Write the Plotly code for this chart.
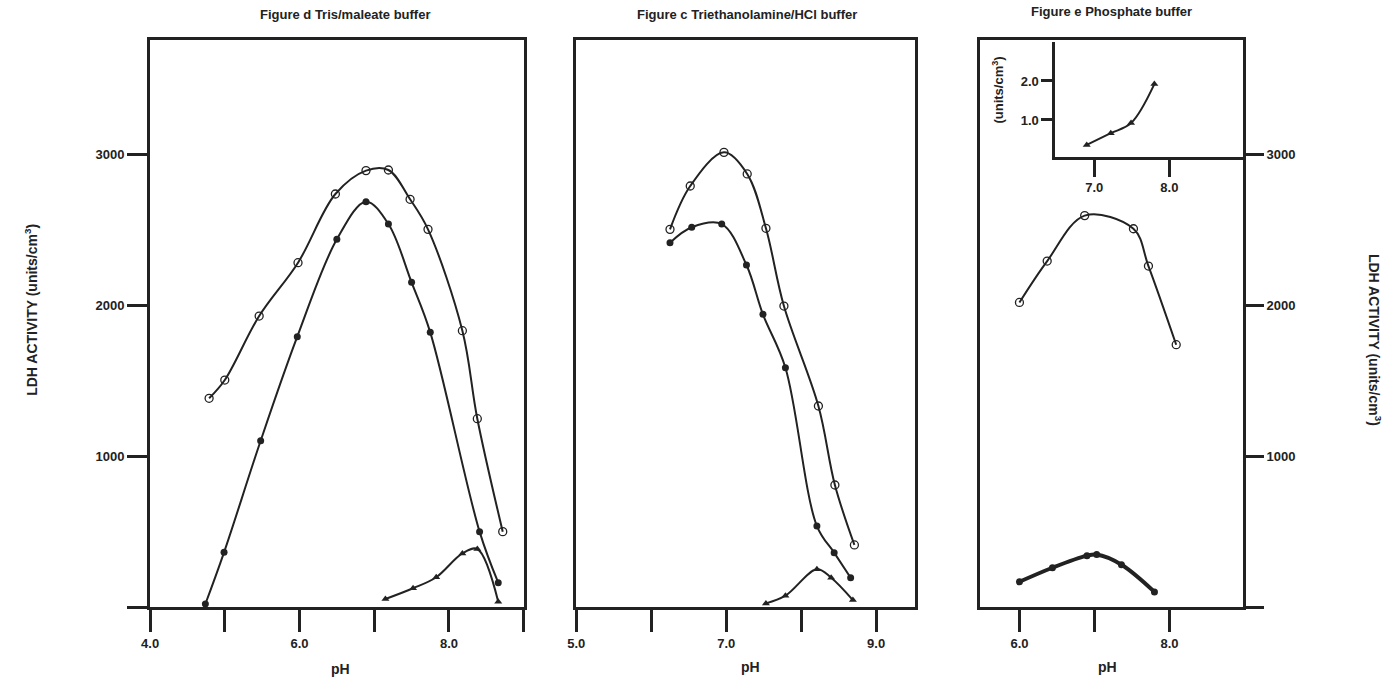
import plotly.graph_objects as go

# ---------------- data ----------------
# Figure d  Tris/maleate buffer
d_open_ph = [4.79, 5.00, 5.46, 5.98, 6.48, 6.89, 7.19, 7.48, 7.72, 8.18, 8.38, 8.72]
d_open_act = [1382, 1503, 1927, 2280, 2735, 2890, 2894, 2700, 2501, 1830, 1247, 499]
d_fill_ph = [4.74, 4.99, 5.48, 5.97, 6.50, 6.89, 7.19, 7.50, 7.75, 8.41, 8.66]
d_fill_act = [20, 362, 1101, 1790, 2435, 2684, 2536, 2150, 1819, 499, 161]
d_tri_ph = [7.15, 7.52, 7.83, 8.18, 8.38, 8.66]
d_tri_act = [53, 124, 197, 355, 384, 35]

# Figure c  Triethanolamine/HCl buffer
c_open_ph = [6.25, 6.52, 6.97, 7.28, 7.53, 7.77, 8.23, 8.45, 8.71]
c_open_act = [2501, 2788, 3011, 2868, 2508, 1993, 1331, 808, 411]
c_fill_ph = [6.25, 6.54, 6.94, 7.27, 7.49, 7.79, 8.21, 8.44, 8.66]
c_fill_act = [2413, 2515, 2536, 2265, 1938, 1585, 536, 360, 194]
c_tri_ph = [7.53, 7.79, 8.21, 8.40, 8.69]
c_tri_act = [24, 75, 250, 194, 46]

# Figure e  Phosphate buffer
e_open_ph = [6.00, 6.37, 6.87, 7.52, 7.72, 8.09]
e_open_act = [2017, 2291, 2592, 2505, 2258, 1737]
e_fill_ph = [6.00, 6.44, 6.90, 7.03, 7.36, 7.80]
e_fill_act = [167, 260, 340, 347, 280, 100]
# inset (units/cm3)
e_inset_ph = [6.90, 7.22, 7.49, 7.80]
e_inset_act = [0.36, 0.66, 0.92, 1.92]

# tick labels
d_xticks = [4, 6, 8]
d_xlabels = ["4.0", "6.0", "8.0"]
d_xminor = [5, 7, 9]
c_xticks = [5, 7, 9]
c_xlabels = ["5.0", "7.0", "9.0"]
c_xminor = [6, 8]
e_xticks = [6, 8]
e_xlabels = ["6.0", "8.0"]
e_xminor = [7, 9]
y_ticks = [1000, 2000, 3000]
y_labels = ["1000", "2000", "3000"]
y_minor = [0]
inset_xticks = [7, 8]
inset_xlabels = ["7.0", "8.0"]
inset_yticks = [1, 2]
inset_ylabels = ["1.0", "2.0"]

# ---------------- styling ----------------
INK = "#222222"
FONT = "Liberation Sans"
W, H = 1391, 682

def px(x):
    return x / W

def py(y):
    return 1 - y / H

fig = go.Figure()

def curve(x, y, xa, ya, kind, width=2):
    if kind == "open":
        marker = dict(symbol="circle-open", size=8, color=INK, line=dict(width=1.3, color=INK))
    elif kind == "fill":
        marker = dict(symbol="circle", size=7, color=INK)
    else:
        marker = dict(symbol="triangle-up", size=7, color=INK)
    fig.add_trace(go.Scatter(
        x=x, y=y, xaxis=xa, yaxis=ya, mode="lines+markers",
        line=dict(color=INK, width=width, shape="spline", smoothing=1.0),
        marker=marker, showlegend=False, hoverinfo="x+y"))

curve(d_open_ph, d_open_act, "x", "y", "open")
curve(d_fill_ph, d_fill_act, "x", "y", "fill")
curve(d_tri_ph, d_tri_act, "x", "y", "tri")

curve(c_open_ph, c_open_act, "x2", "y2", "open")
curve(c_fill_ph, c_fill_act, "x2", "y2", "fill")
curve(c_tri_ph, c_tri_act, "x2", "y2", "tri")

curve(e_open_ph, e_open_act, "x3", "y3", "open")
curve(e_fill_ph, e_fill_act, "x3", "y3", "fill", width=4)

curve(e_inset_ph, e_inset_act, "x4", "y4", "tri")

tickfont = dict(family=FONT, size=13, color=INK, weight="bold")
ydom = [py(607), py(40)]
YMAX = 3755

def xax(domain, rng, tv, tt, minor, anchor):
    return dict(domain=domain, range=rng, anchor=anchor,
                showline=True, linewidth=3, linecolor=INK, mirror=True,
                ticks="outside", ticklen=22, tickwidth=2.5, tickcolor=INK,
                tickvals=tv, ticktext=tt, tickfont=tickfont,
                minor=dict(tickvals=minor, ticks="outside", ticklen=22,
                           tickwidth=2.5, tickcolor=INK, showgrid=False),
                showgrid=False, zeroline=False, fixedrange=True)

def yax(anchor, side, ticklen):
    return dict(domain=ydom, range=[0, YMAX], anchor=anchor, side=side,
                showline=True, linewidth=3, linecolor=INK, mirror=True,
                ticks="outside", ticklen=ticklen, tickwidth=2.5, tickcolor=INK,
                tickvals=y_ticks, ticktext=y_labels, tickfont=tickfont,
                minor=dict(tickvals=y_minor, ticks="outside", ticklen=ticklen,
                           tickwidth=2.5, tickcolor=INK, showgrid=False),
                showgrid=False, zeroline=False, fixedrange=True)

fig.update_layout(
    width=W, height=H,
    margin=dict(l=0, r=0, t=0, b=0),
    paper_bgcolor="white", plot_bgcolor="white",
    xaxis=xax([px(142), px(518)], [4.0, 9.0], d_xticks, d_xlabels, d_xminor, "y"),
    yaxis=yax("x", "left", 20),
    xaxis2=xax([px(571), px(912)], [5.0, 9.52], c_xticks, c_xlabels, c_xminor, "y2"),
    yaxis2=dict(domain=ydom, range=[0, YMAX], anchor="x2",
                showline=True, linewidth=3, linecolor=INK, mirror=True,
                ticks="", showticklabels=False,
                showgrid=False, zeroline=False, fixedrange=True),
    xaxis3=xax([px(977), px(1242)], [5.47, 8.98], e_xticks, e_xlabels, e_xminor, "y3"),
    yaxis3=yax("x3", "right", 18),
    xaxis4=dict(domain=[px(1053), px(1242)], range=[6.48, 8.98], anchor="y4",
                showline=True, linewidth=2.5, linecolor=INK, mirror=False,
                ticks="outside", ticklen=17, tickwidth=2.5, tickcolor=INK,
                tickvals=inset_xticks, ticktext=inset_xlabels, tickfont=tickfont,
                showgrid=False, zeroline=False, fixedrange=True),
    yaxis4=dict(domain=[py(157), py(42)], range=[0.05, 3.0], anchor="x4",
                showline=True, linewidth=2.5, linecolor=INK, mirror=False,
                ticks="outside", ticklen=11, tickwidth=2.5, tickcolor=INK,
                tickvals=inset_yticks, ticktext=inset_ylabels, tickfont=tickfont,
                showgrid=False, zeroline=False, fixedrange=True),
)

afont = dict(family=FONT, size=13, color=INK)
lfont = dict(family=FONT, size=14, color=INK)
ifont = dict(family=FONT, size=13, color=INK)
ann = [
    dict(text="<b>Figure d Tris/maleate buffer</b>", x=px(339), y=py(15), font=afont),
    dict(text="<b>Figure c Triethanolamine/HCl buffer</b>", x=px(743), y=py(15), font=afont),
    dict(text="<b>Figure e Phosphate buffer</b>", x=px(1110), y=py(12), font=afont),
    dict(text="<b>pH</b>", x=px(334), y=py(669), font=lfont),
    dict(text="<b>pH</b>", x=px(746), y=py(667), font=lfont),
    dict(text="<b>pH</b>", x=px(1106), y=py(667), font=lfont),
    dict(text="<b>LDH ACTIVITY (units/cm<sup>3</sup>)</b>", x=px(22), y=py(310),
         textangle=-90, font=lfont),
    dict(text="<b>LDH ACTIVITY (units/cm<sup>3</sup>)</b>", x=px(1375), y=py(340),
         textangle=90, font=lfont),
    dict(text="<b>(units/cm<sup>3</sup>)</b>", x=px(995), y=py(90),
         textangle=-90, font=ifont),
]
for a in ann:
    a.update(xref="paper", yref="paper", showarrow=False, xanchor="center", yanchor="middle")
fig.update_layout(annotations=ann)

fig.write_html("out.html",
               config={"displayModeBar": False},
               post_script="document.body.style.margin='0';document.body.style.padding='0';")
